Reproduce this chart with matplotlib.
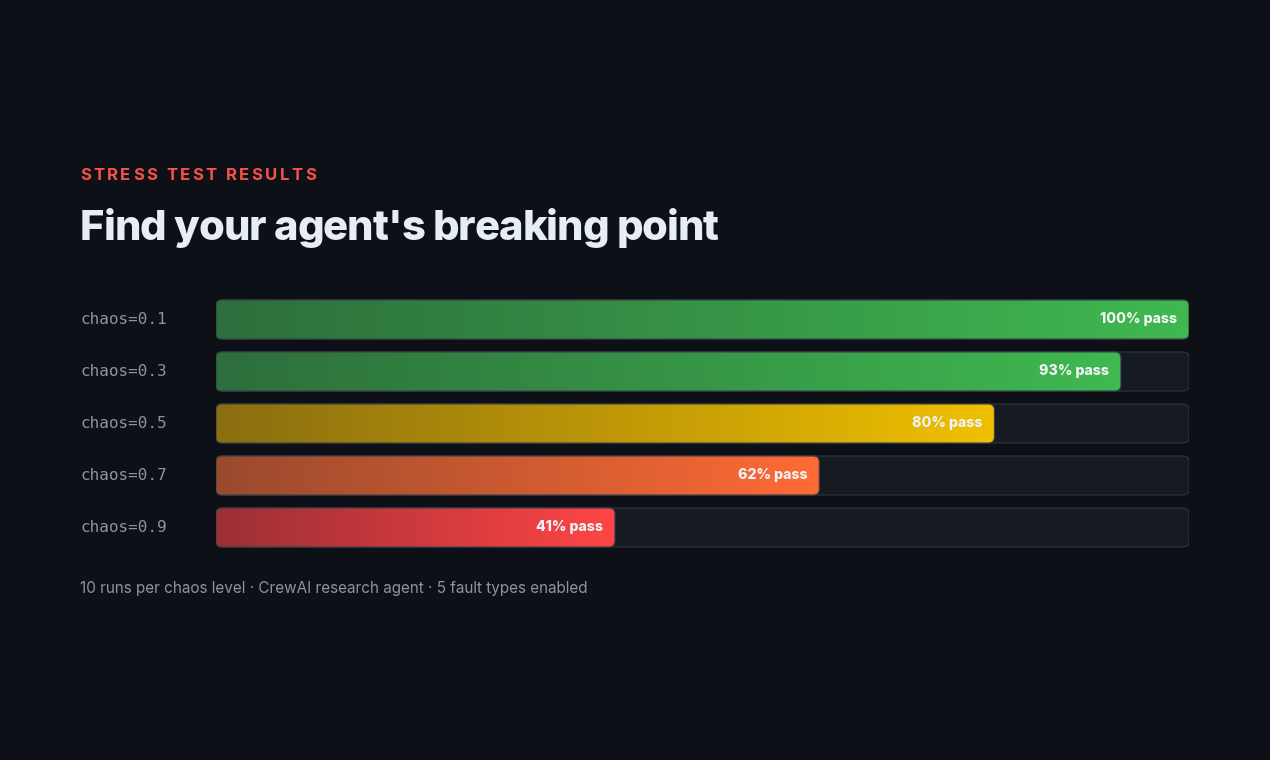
import numpy as np
import matplotlib
matplotlib.use("Agg")
import matplotlib.pyplot as plt
from matplotlib.patches import FancyBboxPatch
from matplotlib.colors import to_rgb
from matplotlib.font_manager import FontProperties, findfont, get_font
from matplotlib.ft2font import LoadFlags

# data
levels = ["chaos=0.1", "chaos=0.3", "chaos=0.5", "chaos=0.7", "chaos=0.9"]
pass_rate = [100, 93, 80, 62, 41]
start_colors = ["#2d6e3c", "#2d6e3c", "#8a6e10", "#9a4a2e", "#9b2f35"]
end_colors = ["#3fb950", "#3fb950", "#f0c000", "#ff6b35", "#ff4545"]

eyebrow = "STRESS TEST RESULTS"
title = "Find your agent's breaking point"
footer = "10 runs per chaos level \u00b7 CrewAI research agent \u00b7 5 fault types enabled"

BG = "#0d1117"
TRACK = "#161b22"
EDGE = "#30363d"
MUTED = "#8b949e"

W, H = 1270, 760
fig = plt.figure(figsize=(W / 100, H / 100), dpi=100, facecolor=BG)


def advances(s, prop):
    # per-char advance in pixels (at dpi 100), straight from the font
    font = get_font(findfont(prop))
    font.set_size(prop.get_size_in_points(), 100)
    out = []
    for ch in s:
        g = font.load_char(ord(ch), flags=LoadFlags.NO_HINTING)
        out.append(g.linearHoriAdvance / 65536)
    return out


def spaced_text(x, y, s, prop, color, width=None, spacing=0.0):
    # matplotlib has no letter-spacing, so place chars one by one
    adv = advances(s, prop)
    if width is not None:
        spacing = (width - sum(adv)) / (len(s) - 1)
    for ch, a in zip(s, adv):
        if ch != " ":
            fig.text(x / W, 1 - y / H, ch, ha="left", va="baseline", color=color,
                     fontproperties=prop)
        x += a + spacing


# bar area: x 216..1189 px, rows pitch 52 px starting at 293.5
left, right = 216, 1189
top, bottom = 293.5, 553.5
ax = fig.add_axes([left / W, (H - bottom) / H, (right - left) / W, (bottom - top) / H])
ax.set_facecolor(BG)
ax.set_xlim(0, 100)
ax.set_ylim(len(levels) - 0.5, -0.5)
ax.axis("off")

px_x = 100 / (right - left)      # data units per pixel, x
px_y = 1 / 52                     # data units per pixel, y
aspect = px_y / px_x
rad = 6 * px_x
bh = 39 / 52

for i, (lab, v) in enumerate(zip(levels, pass_rate)):
    y0 = i - bh / 2
    track = FancyBboxPatch((0, y0), 100, bh, boxstyle=f"round,pad=0,rounding_size={rad}",
                           mutation_aspect=aspect, facecolor=TRACK, edgecolor=EDGE, lw=0.8, zorder=1)
    ax.add_patch(track)

    fill = FancyBboxPatch((0, y0), v, bh, boxstyle=f"round,pad=0,rounding_size={rad}",
                          mutation_aspect=aspect, facecolor="none", edgecolor="#3a404a", lw=0.8, zorder=3)
    ax.add_patch(fill)
    c0 = np.array(to_rgb(start_colors[i]))
    c1 = np.array(to_rgb(end_colors[i]))
    t = np.linspace(0, 1, 256)[:, None]
    grad = (c0 * (1 - t) + c1 * t)[None, :, :]
    im = ax.imshow(grad, extent=(0, v, y0 + bh, y0), aspect="auto", interpolation="bilinear", zorder=2)
    im.set_clip_path(fill)

    ax.text(v - 12 * px_x, i, f"{v}% pass", ha="right", va="center", color="#f0f3f6",
            fontsize=10.2, fontweight="heavy", family="Inter", zorder=4)

    fig.text(80 / W, 1 - (319 + 52 * i) / H, lab, ha="left", va="center", color=MUTED,
             fontsize=11.5, family="DejaVu Sans Mono")

# headings
spaced_text(80, 179.5, eyebrow, FontProperties(family="Inter", weight="bold", size=12),
            "#f85149", width=236)
spaced_text(80, 240, title, FontProperties(family="Inter", weight="heavy", size=30),
            "#e6edf3", width=639)
fig.text(80 / W, 1 - 588 / H, footer, ha="left", va="center", color=MUTED,
         fontsize=11, family="Inter")

fig.savefig("out.png", dpi=100, facecolor=BG)
